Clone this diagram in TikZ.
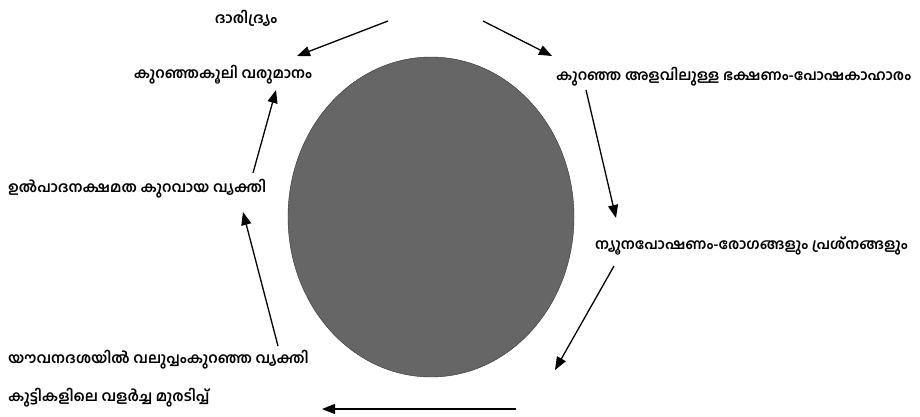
\documentclass[tikz,border=0pt]{standalone}
\usepackage{fontspec}
\usetikzlibrary{arrows.meta}
\newfontfamily\mlfont[Script=Malayalam]{Hind Kochi}
\definecolor{cyclegray}{RGB}{102,102,102}

\begin{document}
\begin{tikzpicture}[x=1pt,y=-1pt,
  lbl/.style={inner sep=0pt,font=\mlfont\bfseries\fontsize{14.6}{16}\selectfont},
  flow/.style={-{Triangle[length=13pt,width=10pt]},line width=1.3pt}]
  \useasboundingbox (0,0) rectangle (920,417);
  \fill[cyclegray,draw=black!80,line width=0.4pt] (431,217) ellipse [x radius=143,y radius=160];
  \node[lbl](t0) at (246,18) {ദാരിദ്ര്യം};
  \node[lbl](t1) at (223,75) {കുറഞ്ഞകൂലി വരുമാനം};
  \node[lbl,anchor=west](t2) at (556,77) {കുറഞ്ഞ അളവിലുള്ള ഭക്ഷണം-പോഷകാഹാരം};
  \node[lbl,anchor=west](t3) at (8,189) {ഉൽപാദനക്ഷമത കുറവായ വ്യക്തി};
  \node[lbl,anchor=west](t4) at (595,246) {ന്യൂനപോഷണം-രോഗങ്ങളും പ്രശ്നങ്ങളും};
  \node[lbl,anchor=west](t5) at (8,360) {യൗവനദശയിൽ വലുപ്പംകുറഞ്ഞ വ്യക്തി};
  \node[lbl,anchor=west](t6) at (8,398) {കുട്ടികളിലെ വളർച്ച മുരടിപ്പ്};
  % arrow ends
  \coordinate (a1) at (388,21);  \coordinate (b1) at (297,56);
  \coordinate (a2) at (483,21);  \coordinate (b2) at (552,56);
  \coordinate (a3) at (586,90);  \coordinate (b3) at (616,218);
  \coordinate (a4) at (614,266); \coordinate (b4) at (555,370);
  \coordinate (a5) at (516,409); \coordinate (b5) at (322,409);
  \coordinate (a6) at (278,346); \coordinate (b6) at (243,212);
  \coordinate (a7) at (253,173); \coordinate (b7) at (276,90);
  \foreach \i in {1,...,7}
    \draw[flow](a\i)--(b\i);
\end{tikzpicture}
\end{document}
